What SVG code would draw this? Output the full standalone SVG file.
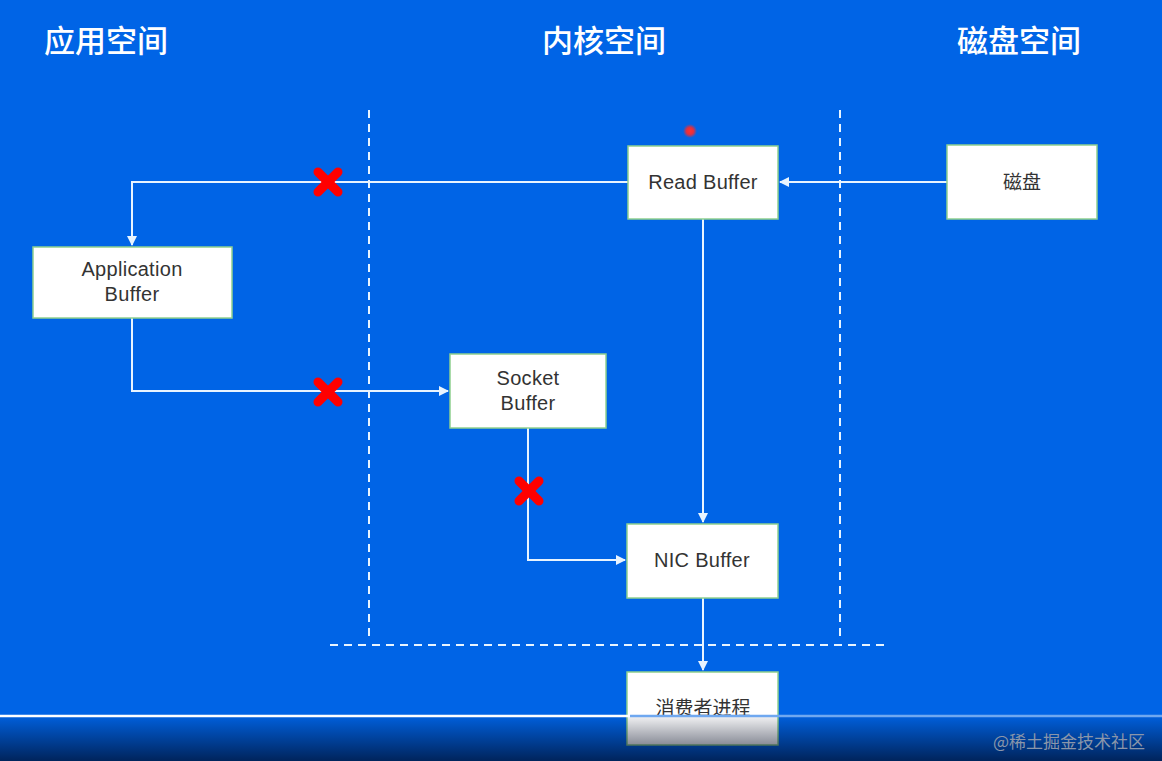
<svg xmlns="http://www.w3.org/2000/svg" width="1162" height="761" viewBox="0 0 1162 761">
<defs>
<style>
.title{font-family:"Noto Sans CJK SC","Liberation Sans",sans-serif;font-size:31px;font-weight:500;fill:#ffffff;text-anchor:middle}
.box{fill:#ffffff;stroke:#8fd08f;stroke-width:1.5}
.lbl{font-family:"Liberation Sans","Noto Sans CJK SC",sans-serif;font-size:20px;fill:#333333;text-anchor:middle;letter-spacing:0.3px}
.cn{font-family:"Noto Sans CJK SC",sans-serif;font-size:19px;fill:#333333;text-anchor:middle}
.conn{fill:none;stroke:#e8f4ff;stroke-width:2}
.dash{fill:none;stroke:#e8f4ff;stroke-width:2;stroke-dasharray:8 6}
.x{stroke:#ff0000;stroke-width:9;stroke-linecap:round}
</style>
<marker id="arr" viewBox="0 0 10 10" refX="9" refY="5" markerWidth="10" markerHeight="10" orient="auto" markerUnits="userSpaceOnUse">
<path d="M0,0 L10,5 L0,10 Z" fill="#e8f4ff"/>
</marker>
<linearGradient id="shade" x1="0" y1="0" x2="0" y2="1">
<stop offset="0" stop-color="#000820" stop-opacity="0.05"/>
<stop offset="1" stop-color="#000820" stop-opacity="0.7"/>
</linearGradient>
<radialGradient id="dot">
<stop offset="0" stop-color="#ff3030"/>
<stop offset="0.5" stop-color="#e03040"/>
<stop offset="1" stop-color="#e03040" stop-opacity="0"/>
</radialGradient>
</defs>
<rect x="0" y="0" width="1162" height="761" fill="#0064e6"/>

<g id="titles">
<text class="title" x="106" y="52">应用空间</text>
<text class="title" x="604" y="52">内核空间</text>
<text class="title" x="1019" y="52">磁盘空间</text>
</g>

<g id="boundaries">
<line class="dash" x1="369" y1="110" x2="369" y2="640"/>
<line class="dash" x1="840" y1="110" x2="840" y2="640"/>
<line class="dash" x1="330" y1="645" x2="890" y2="645"/>
</g>

<g id="connectors">
<line class="conn" x1="947" y1="182" x2="780" y2="182" marker-end="url(#arr)"/>
<polyline class="conn" points="628,182 132,182 132,245" marker-end="url(#arr)"/>
<polyline class="conn" points="132,318 132,391 448,391" marker-end="url(#arr)"/>
<polyline class="conn" points="528,428 528,560 625,560" marker-end="url(#arr)"/>
<line class="conn" x1="703" y1="219" x2="703" y2="522" marker-end="url(#arr)"/>
<line class="conn" x1="703" y1="598" x2="703" y2="670" marker-end="url(#arr)"/>
</g>

<g id="crosses">
<g transform="translate(328,182)"><line class="x" x1="-10" y1="-10" x2="10" y2="10"/><line class="x" x1="10" y1="-10" x2="-10" y2="10"/></g>
<g transform="translate(328,392)"><line class="x" x1="-10" y1="-10" x2="10" y2="10"/><line class="x" x1="10" y1="-10" x2="-10" y2="10"/></g>
<g transform="translate(529,491)"><line class="x" x1="-10" y1="-10" x2="10" y2="10"/><line class="x" x1="10" y1="-10" x2="-10" y2="10"/></g>
</g>

<g id="read-buffer">
<rect class="box" x="628" y="146" width="150" height="73"/>
<text class="lbl" x="703" y="189">Read Buffer</text>
</g>
<g id="disk">
<rect class="box" x="947" y="145" width="150" height="74"/>
<text class="cn" x="1022" y="189">磁盘</text>
</g>
<g id="application-buffer">
<rect class="box" x="33" y="247" width="199" height="71"/>
<text class="lbl" x="132" y="276">Application</text>
<text class="lbl" x="132" y="301">Buffer</text>
</g>
<g id="socket-buffer">
<rect class="box" x="450" y="354" width="156" height="74"/>
<text class="lbl" x="528" y="385">Socket</text>
<text class="lbl" x="528" y="410">Buffer</text>
</g>
<g id="nic-buffer">
<rect class="box" x="627" y="524" width="151" height="74"/>
<text class="lbl" x="702" y="567">NIC Buffer</text>
</g>
<g id="consumer">
<rect class="box" x="627" y="672" width="151" height="73"/>
<text class="cn" x="703" y="715">消费者进程</text>
</g>

<circle cx="690" cy="131" r="7" fill="url(#dot)"/>

<g id="player-overlay">
<rect x="0" y="716" width="1162" height="45" fill="url(#shade)"/>
<line x1="0" y1="716" x2="630" y2="716" stroke="#ffffff" stroke-width="2.5"/>
<line x1="630" y1="716" x2="1162" y2="716" stroke="#6fa8f0" stroke-width="2.5"/>
<text x="993" y="748" font-family="Noto Sans CJK SC,sans-serif" font-size="17" fill="#8a96aa">@稀土掘金技术社区</text>
</g>
</svg>
